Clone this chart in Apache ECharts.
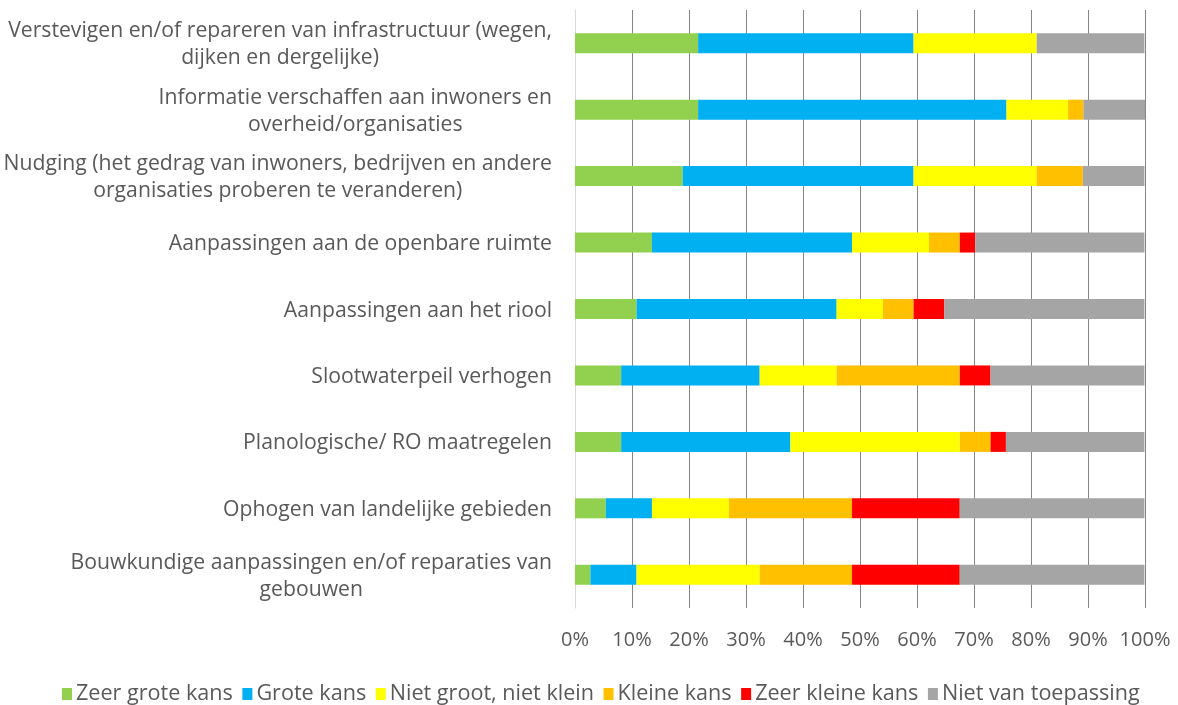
<!DOCTYPE html>
<html>
<head>
<meta charset="utf-8">
<script src="https://cdn.jsdelivr.net/npm/echarts@6/dist/echarts.min.js"></script>
<style>
html,body{margin:0;padding:0;background:#fff;}
#chart{width:1178px;height:705px;}
</style>
</head>
<body>
<div id="chart"></div>
<script>
const categories = [
  "Verstevigen en/of repareren van infrastructuur (wegen,\ndijken en dergelijke)",
  "Informatie verschaffen aan inwoners en\noverheid/organisaties",
  "Nudging (het gedrag van inwoners, bedrijven en andere\norganisaties proberen te veranderen)",
  "Aanpassingen aan de openbare ruimte",
  "Aanpassingen aan het riool",
  "Slootwaterpeil verhogen",
  "Planologische/ RO maatregelen",
  "Ophogen van landelijke gebieden",
  "Bouwkundige aanpassingen en/of reparaties van\ngebouwen"
];
const seriesNames = ["Zeer grote kans", "Grote kans", "Niet groot, niet klein", "Kleine kans", "Zeer kleine kans", "Niet van toepassing"];
const zeerGroteKans   = [21.6, 21.6, 18.9, 13.5, 10.8, 8.1, 8.1, 5.4, 2.7];
const groteKans       = [37.8, 54.1, 40.5, 35.1, 35.1, 24.3, 29.7, 8.1, 8.1];
const nietGrootKlein  = [21.6, 10.8, 21.6, 13.5, 8.1, 13.5, 29.7, 13.5, 21.6];
const kleineKans      = [0, 2.7, 8.1, 5.4, 5.4, 21.6, 5.4, 21.6, 16.2];
const zeerKleineKans  = [0, 0, 0, 2.7, 5.4, 5.4, 2.7, 18.9, 18.9];
const nietVanToepassing = [18.9, 10.8, 10.8, 29.7, 35.1, 27.0, 24.3, 32.4, 32.4];
const xTicks = [0, 10, 20, 30, 40, 50, 60, 70, 80, 90, 100];
const colors = ["#92D050", "#00B0F0", "#FFFF00", "#FFC000", "#FF0000", "#A5A5A5"];

const allData = [zeerGroteKans, groteKans, nietGrootKlein, kleineKans, zeerKleineKans, nietVanToepassing];

const chart = echarts.init(document.getElementById('chart'), null, {renderer: 'canvas'});
const FONT = "'Open Sans', sans-serif";
chart.setOption({
  animation: false,
  color: colors,
  grid: {left: 575, right: 33, top: 10, bottom: 97, containLabel: false},
  legend: {
    data: seriesNames,
    left: 57,
    top: 678,
    icon: 'rect',
    itemWidth: 10,
    itemHeight: 12,
    itemGap: 9.5,
    textStyle: {fontSize: 21.6, color: '#595959', fontFamily: FONT, padding: [0, 0, 0, -1]}
  },
  xAxis: {
    type: 'value',
    min: 0,
    max: 100,
    interval: 10,
    axisLine: {show: false},
    axisTick: {show: false},
    splitLine: {show: true, lineStyle: {color: '#868686', width: 1}},
    axisLabel: {
      formatter: v => xTicks.includes(v) ? v + '%' : '',
      fontSize: 20, color: '#595959', fontFamily: FONT, margin: 22
    }
  },
  yAxis: {
    type: 'category',
    inverse: true,
    data: categories,
    axisLine: {show: true, lineStyle: {color: '#D9D9D9', width: 1}},
    axisTick: {show: false},
    axisLabel: {
      margin: 23,
      align: 'right',
      fontSize: 21.2, color: '#595959', fontFamily: FONT, lineHeight: 27,
      padding: [3, 0, 0, 0],
      formatter: v => v.split('\n').map(l => '{c|' + l + '}').join('\n'),
      rich: {c: {align: 'center', fontSize: 21.2, color: '#595959', fontFamily: FONT, lineHeight: 27}}
    }
  },
  series: seriesNames.map((name, i) => ({
    name: name,
    type: 'bar',
    stack: 'total',
    barWidth: 20,
    data: allData[i],
    itemStyle: {color: colors[i]}
  }))
});
</script>
</body>
</html>
